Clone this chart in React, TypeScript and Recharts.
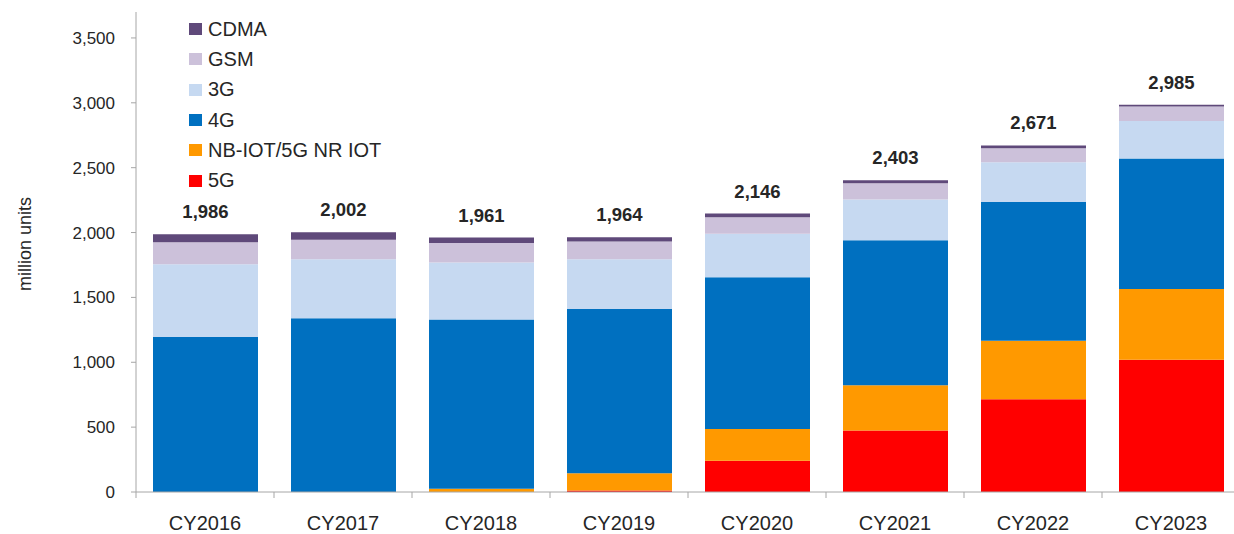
import { BarChart, Bar, XAxis, YAxis, LabelList } from "recharts";

const years = ["CY2016", "CY2017", "CY2018", "CY2019", "CY2020", "CY2021", "CY2022", "CY2023"];
const fiveG = [0, 0, 0, 12, 240, 475, 715, 1020];
const nbIot = [0, 0, 25, 133, 245, 347, 450, 545];
const lte = [1195, 1340, 1305, 1265, 1170, 1118, 1070, 1005];
const threeG = [560, 455, 440, 385, 335, 314, 307, 290];
const gsm = [170, 150, 150, 135, 128, 126, 108, 112];
const cdma = [61, 57, 41, 34, 28, 23, 21, 13];
const totals = [1986, 2002, 1961, 1964, 2146, 2403, 2671, 2985];
const yTicks = [0, 500, 1000, 1500, 2000, 2500, 3000, 3500];

// stack order bottom -> top
const series = [
  { key: "fiveG", name: "5G", color: "#FF0000" },
  { key: "nbIot", name: "NB-IOT/5G NR IOT", color: "#FF9900" },
  { key: "lte", name: "4G", color: "#0070C0" },
  { key: "threeG", name: "3G", color: "#C6D9F1" },
  { key: "gsm", name: "GSM", color: "#CCC1DA" },
  { key: "cdma", name: "CDMA", color: "#5F497A" },
];

const data = years.map((year, i) => ({
  year,
  fiveG: fiveG[i],
  nbIot: nbIot[i],
  lte: lte[i],
  threeG: threeG[i],
  gsm: gsm[i],
  cdma: cdma[i],
  total: totals[i],
}));

const FONT = "'Liberation Sans', Arial, sans-serif";
const AXIS = "#A6A6A6";
const STEP = 138;

function XTick(props: any) {
  const { x, y, payload, index } = props;
  return (
    <g>
      <line x1={x - STEP / 2} x2={x - STEP / 2} y1={y} y2={y + 6} stroke={AXIS} />
      {index === years.length - 1 && (
        <line x1={x + STEP / 2} x2={x + STEP / 2} y1={y} y2={y + 6} stroke={AXIS} />
      )}
      <text x={x} y={y + 38} textAnchor="middle" fontSize={20} fill="#262626" fontFamily={FONT}>
        {payload.value}
      </text>
    </g>
  );
}

export default function App() {
  return (
    <div
      style={{
        position: "absolute",
        left: 0,
        top: 0,
        width: 1234,
        height: 534,
        overflow: "hidden",
        background: "#fff",
        fontFamily: FONT,
      }}
    >
      <BarChart
        width={1250}
        height={534}
        data={data}
        margin={{ top: 12, right: 10, left: 0, bottom: 0 }}
        barSize={105}
      >
        <XAxis
          dataKey="year"
          stroke={AXIS}
          tickLine={false}
          tickSize={0}
          tickMargin={0}
          height={42}
          tick={<XTick />}
        />
        <YAxis
          width={136}
          domain={[0, 3700]}
          ticks={yTicks}
          stroke={AXIS}
          tickSize={5}
          tickMargin={16}
          tick={{ fontSize: 17, fill: "#262626", fontFamily: FONT }}
          tickFormatter={(v: number) => v.toLocaleString("en-US")}
          label={{
            position: "center",
            content: () => (
              <text
                x={25}
                y={244}
                transform="rotate(-90 25 244)"
                textAnchor="middle"
                dominantBaseline="central"
                fontSize={18}
                fill="#262626"
                fontFamily={FONT}
              >
                million units
              </text>
            ),
          }}
        />
        {series.map((s, i) => (
          <Bar
            key={s.key}
            dataKey={s.key}
            name={s.name}
            stackId="a"
            fill={s.color}
            isAnimationActive={false}
          >
            {i === series.length - 1 && (
              <LabelList
                dataKey="total"
                position="top"
                offset={16}
                fontSize={18.5}
                fontWeight="bold"
                fill="#262626"
                fontFamily={FONT}
                formatter={(v: any) => Number(v).toLocaleString("en-US")}
              />
            )}
          </Bar>
        ))}
      </BarChart>
      <div style={{ position: "absolute", left: 189, top: 14 }}>
        {[...series].reverse().map((s) => (
          <div
            key={s.key}
            style={{ display: "flex", alignItems: "center", height: 30.3, fontSize: 20, color: "#262626" }}
          >
            <span style={{ display: "inline-block", width: 13, height: 12, background: s.color, marginRight: 6 }} />
            {s.name}
          </div>
        ))}
      </div>
    </div>
  );
}
